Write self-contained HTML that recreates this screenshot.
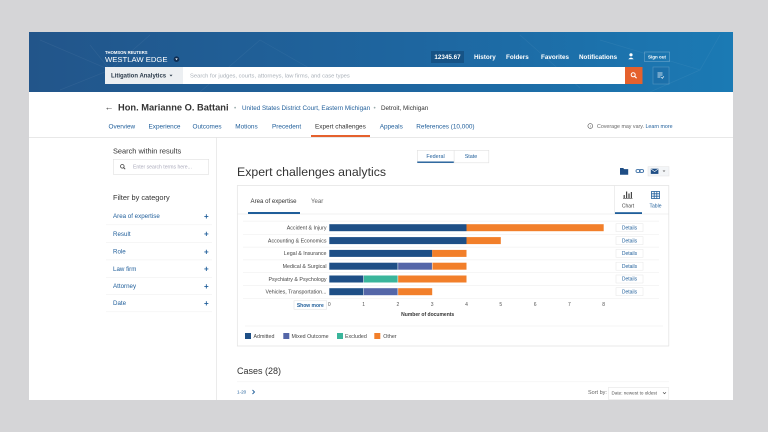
<!DOCTYPE html>
<html><head><meta charset="utf-8"><style>
html,body{margin:0;padding:0;background:#d5d5d7;}
svg{display:block;}
</style></head><body>
<svg width="768" height="432" viewBox="0 0 768 432" xmlns="http://www.w3.org/2000/svg" font-family="'Liberation Sans', sans-serif">
<defs>
<linearGradient id="hg" x1="0" y1="0" x2="1" y2="0">
<stop offset="0" stop-color="#22558a"/><stop offset="0.55" stop-color="#1e66a0"/><stop offset="1" stop-color="#1b7ab4"/>
</linearGradient>
</defs>
<rect width="768" height="432" fill="#d5d5d7"/>
<rect x="29" y="32" width="704" height="368" fill="#fff"/>
<!-- header -->
<rect x="29" y="32" width="704" height="60" fill="url(#hg)"/>
<g stroke="#ffffff" stroke-opacity="0.06" stroke-width="0.7" fill="none">
<path d="M40,40 L110,70 L150,35 M60,90 L110,70 L90,45 M200,92 L260,40 L330,80 M520,35 L580,88 M600,40 L700,70 L720,35 M650,92 L700,70"/>
</g>
<text x="105" y="54" font-size="4.2" font-weight="bold" fill="#fff">THOMSON REUTERS</text>
<text x="105" y="62.1" font-size="7.7" fill="#fff">WESTLAW EDGE</text>
<circle cx="176.5" cy="59.2" r="2.8" fill="#0f2d52"/>
<path d="M175.3,58.4 L177.7,58.4 L176.5,60.2Z" fill="#fff"/>
<rect x="431" y="51" width="33" height="12" fill="#0e3a63" fill-opacity="0.45"/>
<text x="447.5" y="59.1" font-size="6.3" font-weight="bold" fill="#fff" text-anchor="middle">12345.67</text>
<text x="474" y="58.8" font-size="6.3" font-weight="bold" fill="#fff">History</text>
<text x="506" y="58.8" font-size="6.3" font-weight="bold" fill="#fff">Folders</text>
<text x="541" y="58.8" font-size="6.3" font-weight="bold" fill="#fff">Favorites</text>
<text x="579" y="58.8" font-size="6.3" font-weight="bold" fill="#fff">Notifications</text>
<circle cx="631" cy="54.8" r="1.6" fill="#fff"/>
<path d="M628.3,59.3 Q631,55.8 633.7,59.3Z" fill="#fff"/>
<rect x="644.5" y="52" width="25" height="9.5" fill="none" stroke="#fff" stroke-opacity="0.35" stroke-width="0.6"/>
<text x="657" y="58.3" font-size="4.5" font-weight="bold" fill="#fff" text-anchor="middle">Sign out</text>
<!-- search row -->
<rect x="105" y="67" width="78" height="17" fill="#eceff2"/>
<text x="111" y="77.6" font-size="6" font-weight="bold" fill="#2b3a4a">Litigation Analytics</text>
<path d="M169.5,74.8 L172.5,74.8 L171,76.5Z" fill="#2b3a4a"/>
<rect x="183" y="67" width="442" height="17" fill="#fff"/>
<text x="190" y="77.5" font-size="5.8" fill="#a9b0b8">Search for judges, courts, attorneys, law firms, and case types</text>
<rect x="625" y="67" width="17.5" height="17" fill="#e5612d"/>
<circle cx="633.2" cy="74.8" r="2" fill="none" stroke="#fff" stroke-width="1"/>
<path d="M634.6,76.2 L636.6,78.2" stroke="#fff" stroke-width="1.1"/>
<rect x="653" y="67" width="16" height="17" fill="#1b5f98" fill-opacity="0.25" stroke="#fff" stroke-opacity="0.25" stroke-width="0.6"/>
<g stroke="#fff" stroke-width="0.8"><path d="M657.5,73 h5 M657.5,75 h5 M657.5,77 h3"/></g>
<path d="M661.3,77.3 l1,1 l1.6,-2" stroke="#fff" stroke-width="0.7" fill="none"/>
<!-- judge row -->
<text x="104.5" y="110" font-size="9" fill="#333">←</text>
<text x="118" y="110.6" font-size="9.3" font-weight="bold" fill="#333">Hon. Marianne O. Battani</text>
<text x="234" y="109.8" font-size="6.3" fill="#9aa">•</text>
<text x="242" y="109.8" font-size="6.3" fill="#1f5e9a">United States District Court, Eastern Michigan</text>
<text x="373.5" y="109.8" font-size="6.3" fill="#9aa">•</text>
<text x="381" y="109.8" font-size="6.3" fill="#333">Detroit, Michigan</text>
<!-- tabs -->
<g font-size="6.4" fill="#1f5e9a">
<text x="108.5" y="128.7">Overview</text>
<text x="148.5" y="128.7">Experience</text>
<text x="192.5" y="128.7">Outcomes</text>
<text x="235.3" y="128.7">Motions</text>
<text x="272" y="128.7">Precedent</text>
<text x="315" y="128.7" fill="#333">Expert challenges</text>
<text x="379.7" y="128.7">Appeals</text>
<text x="416.3" y="128.7">References (10,000)</text>
</g>
<rect x="311" y="135" width="59" height="2" fill="#e5612d"/>
<circle cx="590.3" cy="126" r="2.4" fill="none" stroke="#555" stroke-width="0.6"/>
<text x="590.3" y="127.6" font-size="3.6" fill="#555" text-anchor="middle">i</text>
<text x="597" y="127.8" font-size="5.3" fill="#666">Coverage may vary. <tspan fill="#1f5e9a">Learn more</tspan></text>
<rect x="29" y="137" width="704" height="0.8" fill="#e3e3e3"/>
<!-- sidebar -->
<rect x="216" y="137.5" width="0.8" height="262.5" fill="#e6e6e6"/>
<text x="113" y="153.3" font-size="7.4" fill="#333">Search within results</text>
<rect x="113.3" y="159.3" width="95.4" height="15" fill="#fff" stroke="#e0e0e0" stroke-width="0.6"/>
<circle cx="122.3" cy="166.3" r="1.8" fill="none" stroke="#444" stroke-width="0.8"/>
<path d="M123.6,167.6 L125.2,169.2" stroke="#444" stroke-width="0.9"/>
<text x="133" y="168.6" font-size="5.1" fill="#aab">Enter search terms here...</text>
<text x="113" y="199.9" font-size="7.4" fill="#333">Filter by category</text>
<g font-size="6.2" fill="#1f5e9a">
<text x="113" y="218.2">Area of expertise</text>
<text x="113" y="235.9">Result</text>
<text x="113" y="253.5">Role</text>
<text x="113" y="270.9">Law firm</text>
<text x="113" y="288.2">Attorney</text>
<text x="113" y="305.2">Date</text>
</g>
<g font-size="8" font-weight="bold" fill="#1f5e9a" text-anchor="middle">
<text x="206.3" y="219">+</text>
<text x="206.3" y="236.7">+</text>
<text x="206.3" y="254.3">+</text>
<text x="206.3" y="271.7">+</text>
<text x="206.3" y="289">+</text>
<text x="206.3" y="306">+</text>
</g>
<g fill="#f1f1f1">
<rect x="106" y="224.5" width="106" height="0.6"/>
<rect x="106" y="242" width="106" height="0.6"/>
<rect x="106" y="259.6" width="106" height="0.6"/>
<rect x="106" y="277" width="106" height="0.6"/>
<rect x="106" y="294.3" width="106" height="0.6"/>
<rect x="106" y="311.5" width="106" height="0.6"/>
</g>
<!-- federal/state -->
<rect x="417.3" y="150.3" width="71.5" height="12.5" fill="#fff" stroke="#e0e0e0" stroke-width="0.6"/>
<rect x="453.8" y="150.3" width="0.6" height="12.5" fill="#e0e0e0"/>
<rect x="417.3" y="161.5" width="36.5" height="1.4" fill="#1f5e9a"/>
<text x="435.5" y="157.8" font-size="5.4" fill="#1f5e9a" text-anchor="middle">Federal</text>
<text x="471" y="157.8" font-size="5.4" fill="#1f5e9a" text-anchor="middle">State</text>
<!-- title -->
<text x="237" y="176" font-size="12.3" fill="#333">Expert challenges analytics</text>
<path d="M620,168 h3.2 l1,1.1 h4 v5.6 h-8.2z" fill="#1f4e85"/>
<g fill="none" stroke="#3a6ea5" stroke-width="0.9">
<rect x="636" y="169.6" width="4.2" height="2.8" rx="1.4"/>
<rect x="639.4" y="169.6" width="4.2" height="2.8" rx="1.4"/>
</g>
<rect x="648" y="166.7" width="21" height="9.3" fill="#f3f5f7" stroke="#e3e3e3" stroke-width="0.5"/>
<rect x="650.8" y="168.7" width="7.6" height="5.2" fill="#1f4e85"/>
<path d="M651,169 L654.6,171.6 L658.2,169" stroke="#fff" stroke-width="0.6" fill="none"/>
<path d="M662.6,170.5 L665.4,170.5 L664,172Z" fill="#666"/>
<!-- chart card -->
<rect x="237.3" y="185.5" width="431.5" height="160.5" fill="#fff" stroke="#e2e2e2" stroke-width="0.7"/>
<text x="250.5" y="203.1" font-size="6.1" fill="#333">Area of expertise</text>
<text x="311" y="203.1" font-size="6.1" fill="#666">Year</text>
<rect x="237.5" y="213.7" width="431" height="0.6" fill="#e8e8e8"/>
<rect x="248" y="212" width="52" height="2" fill="#1f5e9a"/>
<rect x="614.3" y="185.5" width="0.6" height="28.5" fill="#e3e3e3"/>
<rect x="615" y="212.2" width="27" height="1.8" fill="#1f5e9a"/>
<g fill="#444">
<rect x="623.6" y="195" width="1.2" height="3"/>
<rect x="626" y="191.5" width="1.2" height="6.5"/>
<rect x="628.4" y="193.5" width="1.2" height="4.5"/>
<rect x="630.8" y="192" width="1.2" height="6"/>
<rect x="623" y="198" width="9.5" height="0.6"/>
</g>
<text x="628" y="207.5" font-size="5" fill="#444" text-anchor="middle">Chart</text>
<g fill="none" stroke="#1f5e9a" stroke-width="0.8">
<rect x="651.5" y="191.5" width="8" height="7"/>
<path d="M651.5,193.8 h8 M651.5,196.2 h8 M654.2,191.5 v7 M656.8,191.5 v7"/>
</g>
<text x="655.5" y="207.5" font-size="5" fill="#1f5e9a" text-anchor="middle">Table</text>
<!-- row separators -->
<g fill="#efefef">
<rect x="243" y="220.8" width="416" height="0.6"/>
<rect x="243" y="234" width="416" height="0.6"/>
<rect x="243" y="246.8" width="416" height="0.6"/>
<rect x="243" y="259.6" width="416" height="0.6"/>
<rect x="243" y="272.4" width="416" height="0.6"/>
<rect x="243" y="285.2" width="416" height="0.6"/>
<rect x="243" y="298" width="416" height="0.6"/>
</g>
<!-- labels -->
<g font-size="5.3" fill="#444" text-anchor="end">
<text x="326.5" y="229.5">Accident &amp; Injury</text>
<text x="326.5" y="242.4">Accounting &amp; Economics</text>
<text x="326.5" y="255.2">Legal &amp; Insurance</text>
<text x="326.5" y="268">Medical &amp; Surgical</text>
<text x="326.5" y="280.8">Psychiatry &amp; Psychology</text>
<text x="326.5" y="293.5">Vehicles, Transportation...</text>
</g>
<!-- bars -->
<g>
<rect x="329.3" y="224.2" width="137.2" height="7" fill="#1e4f86"/>
<rect x="466.5" y="224.2" width="137.2" height="7" fill="#f27f2a"/>
<rect x="329.3" y="237.1" width="137.2" height="7" fill="#1e4f86"/>
<rect x="466.5" y="237.1" width="34.3" height="7" fill="#f27f2a"/>
<rect x="329.3" y="249.9" width="102.9" height="7" fill="#1e4f86"/>
<rect x="432.2" y="249.9" width="34.3" height="7" fill="#f27f2a"/>
<rect x="329.3" y="262.7" width="68.6" height="7" fill="#1e4f86"/>
<rect x="397.9" y="262.7" width="34.3" height="7" fill="#5466a8"/>
<rect x="432.2" y="262.7" width="34.3" height="7" fill="#f27f2a"/>
<rect x="329.3" y="275.5" width="34.3" height="7" fill="#1e4f86"/>
<rect x="363.6" y="275.5" width="34.3" height="7" fill="#3ab59b"/>
<rect x="397.9" y="275.5" width="68.6" height="7" fill="#f27f2a"/>
<rect x="329.3" y="288.2" width="34.3" height="7" fill="#1e4f86"/>
<rect x="363.6" y="288.2" width="34.3" height="7" fill="#5466a8"/>
<rect x="397.9" y="288.2" width="34.3" height="7" fill="#f27f2a"/>
</g>
<g stroke="#fff" stroke-width="0.5">
<path d="M363.6,275.5 v7 M397.9,275.5 v7 M363.6,288.2 v7 M397.9,288.2 v7 M397.9,262.7 v7 M432.2,262.7 v7"/>
</g>
<!-- details -->
<g fill="#fff" stroke="#e6e6e6" stroke-width="0.5">
<rect x="616" y="223.7" width="27" height="8"/>
<rect x="616" y="236.6" width="27" height="8"/>
<rect x="616" y="249.4" width="27" height="8"/>
<rect x="616" y="262.2" width="27" height="8"/>
<rect x="616" y="275" width="27" height="8"/>
<rect x="616" y="287.7" width="27" height="8"/>
</g>
<g font-size="5" fill="#1f5e9a" text-anchor="middle">
<text x="629.5" y="229.4">Details</text>
<text x="629.5" y="242.3">Details</text>
<text x="629.5" y="255.1">Details</text>
<text x="629.5" y="267.9">Details</text>
<text x="629.5" y="280.7">Details</text>
<text x="629.5" y="293.4">Details</text>
</g>
<!-- axis -->
<g font-size="5" fill="#555" text-anchor="middle">
<text x="329.3" y="305.8">0</text>
<text x="363.6" y="305.8">1</text>
<text x="397.9" y="305.8">2</text>
<text x="432.2" y="305.8">3</text>
<text x="466.5" y="305.8">4</text>
<text x="500.8" y="305.8">5</text>
<text x="535.1" y="305.8">6</text>
<text x="569.4" y="305.8">7</text>
<text x="603.7" y="305.8">8</text>
</g>
<rect x="294" y="300.8" width="32.7" height="8.4" fill="#fff" stroke="#dedede" stroke-width="0.5"/>
<text x="310.3" y="306.8" font-size="5" font-weight="bold" fill="#1f5e9a" text-anchor="middle">Show more</text>
<text x="427.7" y="315.8" font-size="5" font-weight="bold" fill="#333" text-anchor="middle">Number of documents</text>
<rect x="245" y="325.7" width="418" height="0.6" fill="#eeeeee"/>
<!-- legend -->
<rect x="245" y="333" width="6" height="6" fill="#1e4f86"/>
<text x="253.5" y="337.8" font-size="5.3" fill="#444">Admitted</text>
<rect x="283.3" y="333" width="6" height="6" fill="#5466a8"/>
<text x="291.5" y="337.8" font-size="5.3" fill="#444">Mixed Outcome</text>
<rect x="337" y="333" width="6" height="6" fill="#3ab59b"/>
<text x="345" y="337.8" font-size="5.3" fill="#444">Excluded</text>
<rect x="374.3" y="333" width="6" height="6" fill="#f27f2a"/>
<text x="383.3" y="337.8" font-size="5.3" fill="#444">Other</text>
<!-- cases -->
<text x="237" y="373.9" font-size="9" fill="#333">Cases (28)</text>
<rect x="237" y="381.5" width="432" height="0.6" fill="#f0f0f0"/>
<text x="237" y="393.6" font-size="4.6" fill="#1f5e9a">1-20</text>
<path d="M252.5,390 L254.5,392 L252.5,394" stroke="#1f5e9a" stroke-width="0.9" fill="none"/>
<text x="588" y="394" font-size="5.5" fill="#666">Sort by:</text>
<rect x="608.3" y="387.5" width="60.5" height="11.8" fill="#fff" stroke="#e0e0e0" stroke-width="0.5"/>
<text x="611.5" y="394.3" font-size="4.6" fill="#555">Date: newest to oldest</text>
<path d="M663,392.2 L664.5,393.7 L666,392.2" stroke="#555" stroke-width="0.7" fill="none"/>
</svg>
</body></html>
